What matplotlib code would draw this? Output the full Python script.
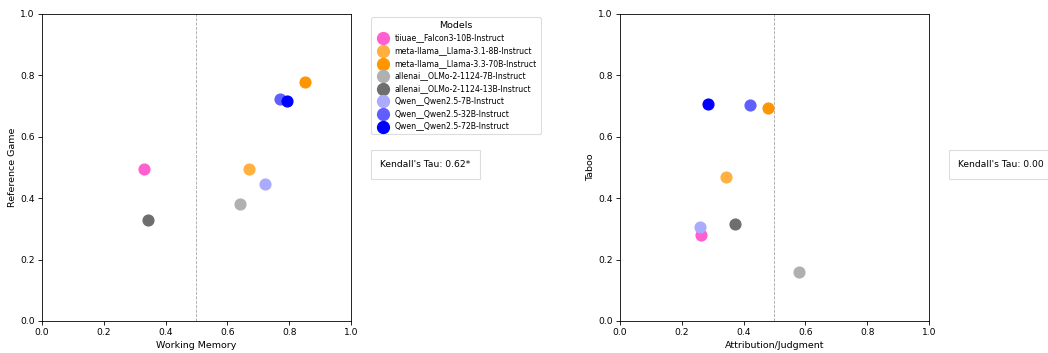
import matplotlib.pyplot as plt

models = [
    "tiiuae__Falcon3-10B-Instruct",
    "meta-llama__Llama-3.1-8B-Instruct",
    "meta-llama__Llama-3.3-70B-Instruct",
    "allenai__OLMo-2-1124-7B-Instruct",
    "allenai__OLMo-2-1124-13B-Instruct",
    "Qwen__Qwen2.5-7B-Instruct",
    "Qwen__Qwen2.5-32B-Instruct",
    "Qwen__Qwen2.5-72B-Instruct",
]
colors = ["#ff5fcf", "#ffb03f", "#ff9500", "#b0b0b0",
          "#6e6e6e", "#aaaaff", "#5f5fff", "#0000ff"]

working_memory = [0.330, 0.670, 0.851, 0.641, 0.343, 0.722, 0.770, 0.793]
reference_game = [0.495, 0.495, 0.780, 0.382, 0.329, 0.446, 0.722, 0.716]

attribution = [0.263, 0.343, 0.479, 0.579, 0.371, 0.259, 0.421, 0.285]
taboo = [0.281, 0.470, 0.695, 0.161, 0.317, 0.305, 0.705, 0.707]

tau_left = "Kendall's Tau: 0.62*"
tau_right = "Kendall's Tau: 0.00"

plt.rcParams["axes.linewidth"] = 0.6
plt.rcParams["xtick.major.width"] = 0.6
plt.rcParams["ytick.major.width"] = 0.6
plt.rcParams["xtick.major.size"] = 2.6
plt.rcParams["ytick.major.size"] = 2.6

fig = plt.figure(figsize=(10.48, 3.53), dpi=100)
ax1 = fig.add_axes([0.0401, 0.0907, 0.2948, 0.8697])
ax2 = fig.add_axes([0.5916, 0.0907, 0.2948, 0.8697])


def panel(ax, xs, ys, xlabel, ylabel, tau):
    for name, c, x, y in zip(models, colors, xs, ys):
        ax.scatter(x, y, s=60, color=c, label=name, zorder=3)
    ax.axvline(0.5, color="gray", linestyle="--", linewidth=0.6, alpha=0.7)
    ax.set_xlim(0, 1)
    ax.set_ylim(0, 1)
    ax.set_xlabel(xlabel, fontsize=6.8, labelpad=2.5)
    ax.set_ylabel(ylabel, fontsize=6.8, labelpad=2.5)
    ax.tick_params(labelsize=6.6, pad=2.5)
    ax.text(1.095, 0.51, tau, transform=ax.transAxes, fontsize=6.6,
            va="center", ha="left",
            bbox=dict(boxstyle="square,pad=1.05", facecolor="white",
                      edgecolor="#dddddd", linewidth=0.8))


panel(ax1, working_memory, reference_game, "Working Memory", "Reference Game", tau_left)
panel(ax2, attribution, taboo, "Attribution/Judgment", "Taboo", tau_right)

leg = ax1.legend(title="Models", loc="upper left", bbox_to_anchor=(1.065, 0.99),
                 borderaxespad=0, fontsize=5.6, title_fontsize=6.8,
                 handletextpad=0.5, borderpad=0.5, labelspacing=0.46,
                 markerscale=1.1, framealpha=1, edgecolor="#dddddd")
leg.get_frame().set_linewidth(0.8)

fig.savefig("out.png", dpi=100)
